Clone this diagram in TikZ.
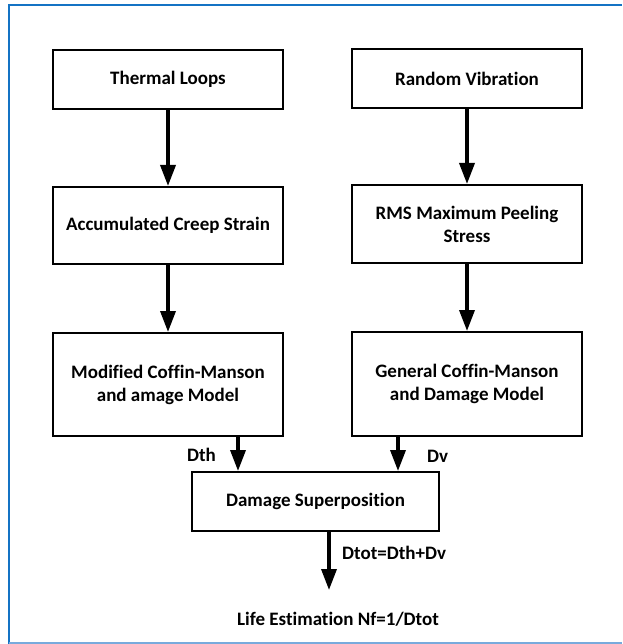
\documentclass[tikz,border=0pt]{standalone}
\usepackage{fontspec}
\setmainfont[Ligatures={NoCommon}]{Carlito}
\usetikzlibrary{arrows.meta}
\definecolor{frameblue}{RGB}{20,115,196}
\definecolor{framelight}{RGB}{120,170,220}
\tikzset{
  box/.style={draw=black, line width=2pt, minimum width=230pt, align=center, inner sep=2pt,
              font=\fontsize{19}{23}\selectfont\bfseries},
  lbl/.style={font=\fontsize{19}{23}\selectfont\bfseries, inner sep=0pt},
  arr/.style={line width=3.5pt, -{Triangle[length=21pt,width=15pt]}}
}
\begin{document}
\begin{tikzpicture}[x=1pt,y=-1pt]
\useasboundingbox (0,0) rectangle (622,644);
% frame
\draw[frameblue, line width=2.5pt] (9,644) -- (9,5) -- (622,5);
\draw[framelight, line width=1.5pt] (9,643) -- (622,643);
% boxes
\node[box, minimum height=59pt] (therm) at (168,79.5) {Thermal Loops};
\node[box, minimum height=59pt] (rand) at (467,78.5) {Random Vibration};
\node[box, minimum height=77pt] (acc) at (168,225.5) {Accumulated Creep Strain};
\node[box, minimum height=78pt] (rms) at (467,224) {RMS Maximum Peeling\\Stress};
\node[box, minimum height=103pt] (mod) at (168,384.5) {Modified Coffin-Manson\\and amage Model};
\node[box, minimum height=104pt] (gen) at (467,384) {General Coffin-Manson\\and Damage Model};
\node[box, minimum width=247pt, minimum height=59pt] (sup) at (315.5,501.5) {Damage Superposition};
% connectors
\draw[arr] (therm) -- (acc);
\draw[arr] (rand) -- (rms);
\draw[arr] (acc) -- (mod);
\draw[arr] (rms) -- (gen);
\coordinate (xl) at (238,0);
\coordinate (xr) at (398,0);
\coordinate (xb) at (329,0);
\coordinate (endb) at (329,590);
\draw[arr] (mod.south -| xl) -- (sup.north -| xl);
\draw[arr] (gen.south -| xr) -- (sup.north -| xr);
\draw[arr] (sup.south -| xb) -- (endb);
% labels
\node[lbl, anchor=east] (dth) at (216,455) {Dth};
\node[lbl, anchor=west] (dv) at (427,456) {Dv};
\node[lbl, anchor=west] (dtot) at (342,553) {Dtot=Dth+Dv};
\node[lbl] (life) at (338,619) {Life Estimation Nf=1/Dtot};
\end{tikzpicture}
\end{document}
